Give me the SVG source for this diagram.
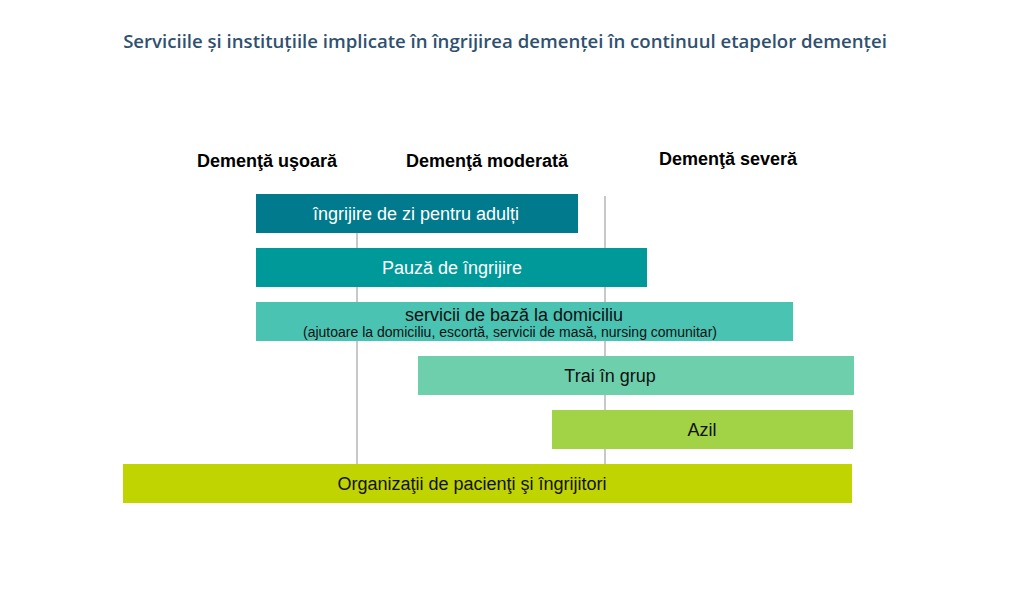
<svg xmlns="http://www.w3.org/2000/svg" width="1015" height="592" viewBox="0 0 1015 592">
<style>
.title{font-family:"Open Sans","Liberation Sans",sans-serif;font-size:18.6px;font-weight:600;fill:#2f5170;}
.hdr{font-family:"Liberation Sans",Arial,sans-serif;font-size:18px;font-weight:bold;fill:#000;text-anchor:middle;}
.lbl{font-family:"Liberation Sans",Arial,sans-serif;font-size:18px;text-anchor:middle;fill:#111;}
.lblw{fill:#fff;}
.sub{font-family:"Liberation Sans",Arial,sans-serif;font-size:14px;text-anchor:middle;fill:#111;}
.grid{stroke:#c8c8c8;stroke-width:2;}
</style>
<rect width="1015" height="592" fill="#fff"/>
<text class="title" x="505" y="48" text-anchor="middle">Serviciile și instituțiile implicate în îngrijirea demenței în continuul etapelor demenței</text>
<g id="headers">
<text class="hdr" x="267" y="167">Demenţă uşoară</text>
<text class="hdr" x="487" y="167">Demenţă moderată</text>
<text class="hdr" x="728" y="165">Demenţă severă</text>
</g>
<g id="connectors">
<line class="grid" x1="357" y1="233" x2="357" y2="464"/>
<line class="grid" x1="605" y1="196" x2="605" y2="464"/>
</g>
<g id="n1"><rect x="256" y="194" width="322" height="39" fill="#007a8c"/><text class="lbl lblw" x="416" y="220">îngrijire de zi pentru adulți</text></g>
<g id="n2"><rect x="256" y="248" width="391" height="39" fill="#00999a"/><text class="lbl lblw" x="452" y="274">Pauză de îngrijire</text></g>
<g id="n3"><rect x="256" y="302" width="537" height="39" fill="#4ac3b3"/><text class="lbl" x="514" y="321">servicii de bază la domiciliu</text><text class="sub" x="510" y="337">(ajutoare la domiciliu, escortă, servicii de masă, nursing comunitar)</text></g>
<g id="n4"><rect x="418" y="356" width="436" height="39" fill="#6dcfab"/><text class="lbl" x="610" y="382">Trai în grup</text></g>
<g id="n5"><rect x="552" y="410" width="301" height="39" fill="#a2d346"/><text class="lbl" x="702" y="436">Azil</text></g>
<g id="n6"><rect x="123" y="464" width="729" height="39" fill="#bfd400"/><text class="lbl" x="472" y="490">Organizaţii de pacienţi şi îngrijitori</text></g>
</svg>
